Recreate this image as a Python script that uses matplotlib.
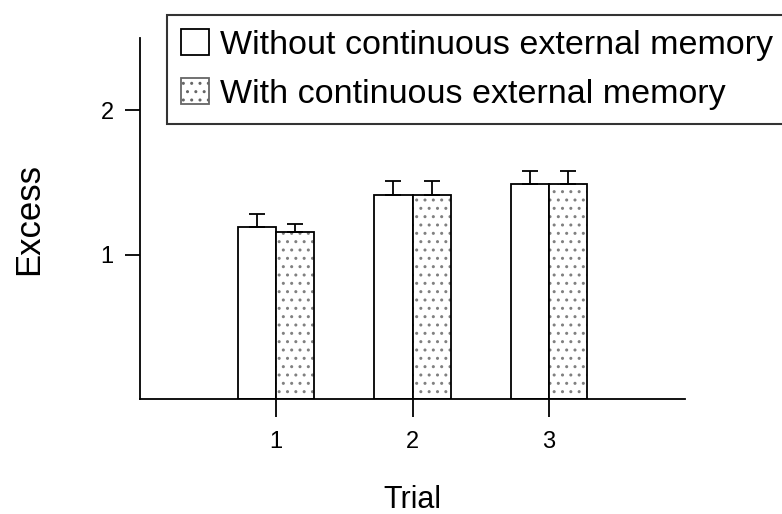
import matplotlib.pyplot as plt
from matplotlib.patches import Patch
import numpy as np

plt.rcParams['font.family'] = ['Liberation Sans', 'DejaVu Sans']
plt.rcParams['hatch.linewidth'] = 1.0

trials = [1, 2, 3]
without_mean = [1.19, 1.41, 1.49]
without_err = [0.09, 0.10, 0.09]
with_mean = [1.16, 1.41, 1.49]
with_err = [0.05, 0.10, 0.09]

fig = plt.figure(figsize=(7.82, 5.14), dpi=100)
ax = fig.add_axes([0.179, 0.2237, 0.697, 0.7023])

x = np.array(trials)
w = 0.28
ekw = dict(elinewidth=1.3, capthick=1.3, ecolor='black')
ax.bar(x - w / 2, without_mean, w, color='white', edgecolor='black', linewidth=1.3,
       yerr=[np.zeros(3), without_err], capsize=6, error_kw=ekw)
# dotted fill first, then the black outline on top
ax.bar(x + w / 2, with_mean, w, color='white', edgecolor='0.5', linewidth=0,
       hatch='..')
ax.bar(x + w / 2, with_mean, w, fill=False, edgecolor='black', linewidth=1.3,
       yerr=[np.zeros(3), with_err], capsize=6, error_kw=ekw)

ax.set_xlim(0, 4)
ax.set_ylim(0, 2.5)
ax.set_xticks(trials)
ax.set_yticks([1, 2])
for s in ['top', 'right']:
    ax.spines[s].set_visible(False)
for s in ['left', 'bottom']:
    ax.spines[s].set_linewidth(1.3)
ax.tick_params(axis='x', labelsize=17, length=13, width=1.3, pad=10)
ax.tick_params(axis='y', labelsize=17, length=11, width=1.3, pad=8)
ax.set_xlabel('Trial', fontsize=22, labelpad=23)
ax.set_ylabel('Excess', fontsize=25, labelpad=40)

handles = [Patch(facecolor='white', edgecolor='black', linewidth=1.3),
           Patch(facecolor='white', edgecolor='0.4', linewidth=1.3, hatch='..')]
leg = fig.legend(handles, ['Without continuous external memory',
                           'With continuous external memory'],
                 loc='upper left', bbox_to_anchor=(0.2136, 0.971), fontsize=24.5,
                 frameon=True, fancybox=False, edgecolor='black',
                 handlelength=0.8, handleheight=0.8, handletextpad=0.35,
                 borderpad=0.42, labelspacing=0.5, borderaxespad=0)
leg.get_frame().set_linewidth(1.5)

fig.savefig('out.png', dpi=100)
